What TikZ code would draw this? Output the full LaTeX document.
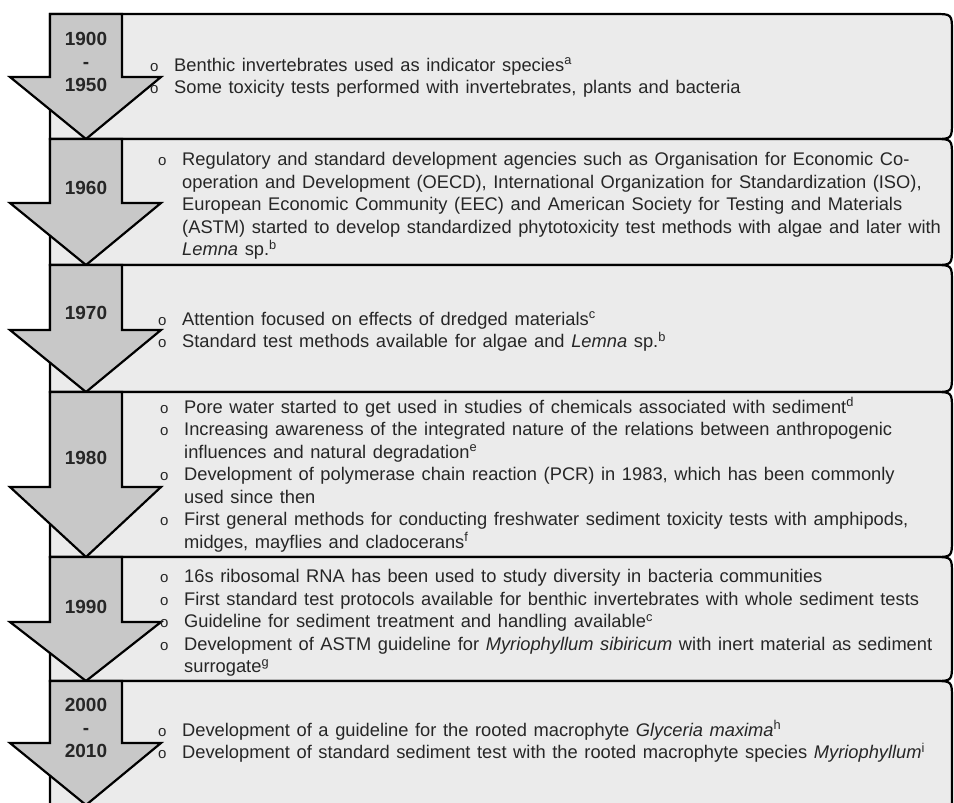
\documentclass[tikz,border=0pt]{standalone}
\usepackage{fontspec}
\setmainfont[WordSpace=1.3]{Liberation Sans}
\newfontfamily\bulletfont{Liberation Sans}
\definecolor{panelgray}{HTML}{EBEBEB}
\definecolor{arrowgray}{HTML}{C8C8C8}
\definecolor{inkgray}{HTML}{262626}
\tikzstyle{panel} = [draw=black,
                    line width=2.2pt,
                    fill=panelgray]
\tikzstyle{downarrow} = [draw=black,
                    line width=2.2pt,
                    line join=miter,
                    fill=arrowgray]
\tikzstyle{year} = [align=center,
                    text=inkgray,
                    font=\fontsize{19}{23}\selectfont\bfseries]
\tikzstyle{notes} = [anchor=west,
                    inner sep=0pt,
                    text=inkgray,
                    font=\fontsize{18.3}{22.5}\selectfont]
\newcommand{\bul}{\makebox[24pt][l]{\bulletfont\fontsize{15}{15}\selectfont o}}
\newcommand{\fnm}[1]{\textsuperscript{#1}}

\begin{document}
\begin{tikzpicture}[x=1pt,y=-1pt]
\useasboundingbox (0,0) rectangle (954,803);
\clip (0,0) rectangle (954,803);
% panels, right corners rounded
\draw[panel] (50,139) -- (50,14) -- (934,14) .. controls (952,14) .. (952,32) -- (952,121) .. controls (952,139) .. (934,139) -- cycle;
\draw[panel] (50,265) -- (50,139) -- (934,139) .. controls (952,139) .. (952,157) -- (952,247) .. controls (952,265) .. (934,265) -- cycle;
\draw[panel] (50,392) -- (50,265) -- (934,265) .. controls (952,265) .. (952,283) -- (952,374) .. controls (952,392) .. (934,392) -- cycle;
\draw[panel] (50,557) -- (50,392) -- (934,392) .. controls (952,392) .. (952,410) -- (952,539) .. controls (952,557) .. (934,557) -- cycle;
\draw[panel] (50,681) -- (50,557) -- (934,557) .. controls (952,557) .. (952,575) -- (952,663) .. controls (952,681) .. (934,681) -- cycle;
\draw[panel] (50,830) -- (50,681) -- (934,681) .. controls (952,681) .. (952,699) -- (952,830) -- cycle;
% arrows
\draw[downarrow] (50,14) -- (50,77) -- (10,77) -- (86,139) -- (161,77) -- (122,77) -- (122,14) -- cycle;
\draw[downarrow] (50,139) -- (50,203) -- (10,203) -- (86,265) -- (161,203) -- (122,203) -- (122,139) -- cycle;
\draw[downarrow] (50,265) -- (50,330) -- (10,330) -- (86,392) -- (161,330) -- (122,330) -- (122,265) -- cycle;
\draw[downarrow] (50,392) -- (50,487) -- (10,487) -- (86,557) -- (161,487) -- (122,487) -- (122,392) -- cycle;
\draw[downarrow] (50,557) -- (50,622) -- (10,622) -- (86,681) -- (161,622) -- (122,622) -- (122,557) -- cycle;
\draw[downarrow] (50,681) -- (50,743) -- (10,743) -- (86,805) -- (161,743) -- (122,743) -- (122,681) -- cycle;
% years
\node (y1900) [year] at (86,62) {1900\\-\\1950};
\node (y1960) [year] at (86,188) {1960};
\node (y1970) [year] at (86,313) {1970};
\node (y1980) [year] at (86,458) {1980};
\node (y1990) [year] at (86,607) {1990};
\node (y2000) [year] at (86,728) {2000\\-\\2010};
% events
\node (e1900) [notes] at (150,78) {\begin{tabular}{@{}l@{}l@{}}
\bul & Benthic invertebrates used as indicator species\fnm{a} \\
\bul & Some toxicity tests performed with invertebrates, plants and bacteria
\end{tabular}};
\node (e1960) [notes] at (158,206) {\begin{tabular}{@{}l@{}l@{}}
\bul & Regulatory and standard development agencies such as Organisation for Economic Co- \\
 & operation and Development (OECD), International Organization for Standardization (ISO), \\
 & European Economic Community (EEC) and American Society for Testing and Materials \\
 & (ASTM) started to develop standardized phytotoxicity test methods with algae and later with \\
 & \textit{Lemna} sp.\fnm{b}
\end{tabular}};
\node (e1970) [notes] at (158,332) {\begin{tabular}{@{}l@{}l@{}}
\bul & Attention focused on effects of dredged materials\fnm{c} \\
\bul & Standard test methods available for algae and \textit{Lemna} sp.\fnm{b}
\end{tabular}};
\node (e1980) [notes] at (160,476) {\begin{tabular}{@{}l@{}l@{}}
\bul & Pore water started to get used in studies of chemicals associated with sediment\fnm{d} \\
\bul & Increasing awareness of the integrated nature of the relations between anthropogenic \\
 & influences and natural degradation\fnm{e} \\
\bul & Development of polymerase chain reaction (PCR) in 1983, which has been commonly \\
 & used since then \\
\bul & First general methods for conducting freshwater sediment toxicity tests with amphipods, \\
 & midges, mayflies and cladocerans\fnm{f}
\end{tabular}};
\node (e1990) [notes] at (160,623) {\begin{tabular}{@{}l@{}l@{}}
\bul & 16s ribosomal RNA has been used to study diversity in bacteria communities \\
\bul & First standard test protocols available for benthic invertebrates with whole sediment tests \\
\bul & Guideline for sediment treatment and handling available\fnm{c} \\
\bul & Development of ASTM guideline for \textit{Myriophyllum sibiricum} with inert material as sediment \\
 & surrogate\fnm{g}
\end{tabular}};
\node (e2000) [notes] at (158,743) {\begin{tabular}{@{}l@{}l@{}}
\bul & Development of a guideline for the rooted macrophyte \textit{Glyceria maxima}\fnm{h} \\
\bul & Development of standard sediment test with the rooted macrophyte species \textit{Myriophyllum}\fnm{i}
\end{tabular}};
\end{tikzpicture}
\end{document}
